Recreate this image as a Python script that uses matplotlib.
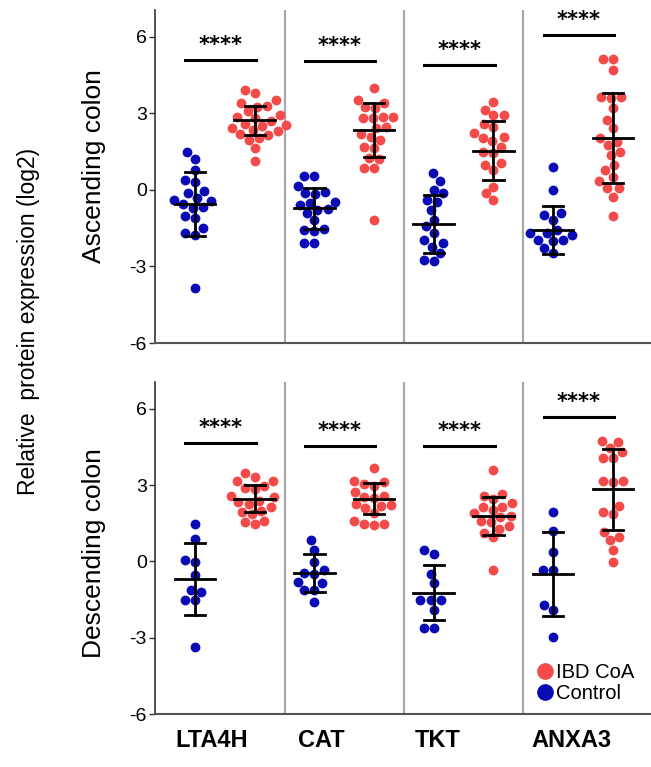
import numpy as np
import matplotlib
matplotlib.use("Agg")
import matplotlib.pyplot as plt
from matplotlib.lines import Line2D

plt.rcParams['font.family'] = ['Liberation Sans', 'DejaVu Sans']
plt.rcParams['axes.unicode_minus'] = False

genes = ["LTA4H", "CAT", "TKT", "ANXA3"]

# Ascending colon, log2 relative expression per sample
asc_ctrl = [
    [1.47, 1.2, 0.76, 0.39, 0.29, -0.04, -0.13, -0.33, -0.39, -0.42, -0.55,
     -0.68, -0.7, -1.04, -1.1, -1.5, -1.7, -1.76, -3.85],
    [0.55, 0.55, 0.16, -0.07, -0.13, -0.15, -0.46, -0.5, -0.59, -0.78, -0.9,
     -0.75, -1.17, -1.63, -1.57, -1.54, -2.09, -2.09],
    [0.65, 0.33, 0.0, -0.13, -0.46, -0.39, -0.78, -1.17, -1.43, -1.7, -2.09,
     -1.96, -2.22, -2.74, -2.8, -2.48],
    [0.91, 0.0, -0.91, -0.98, -1.17, -1.56, -1.69, -1.76, -1.69, -1.96, -2.02,
     -1.96, -2.48, -2.28],
]
asc_ibd = [
    [3.91, 3.78, 3.52, 3.39, 3.3, 3.26, 3.1, 2.87, 2.92, 2.8, 2.7, 2.6, 2.55,
     2.5, 2.41, 2.35, 2.3, 2.2, 2.15, 2.02, 1.96, 1.63, 1.13],
    [3.98, 3.52, 3.39, 3.26, 3.2, 2.87, 2.8, 2.8, 2.87, 2.41, 2.48, 2.2, 2.07,
     1.96, 1.7, 1.64, 1.2, 1.24, 0.85, 0.86, -1.17],
    [3.46, 3.13, 2.93, 2.93, 2.6, 2.48, 2.22, 2.09, 2.02, 1.9, 1.7, 1.5, 1.43,
     1.04, 0.98, 0.78, 0.13, -0.13, -0.39],
    [5.11, 5.11, 4.69, 3.59, 3.65, 3.65, 3.19, 2.74, 2.41, 2.02, 1.76, 1.89,
     1.37, 1.5, 0.98, 0.78, 0.52, 0.33, 0.07, 0.07, -0.26, -1.04],
]
asc_ctrl_mean = [-0.55, -0.72, -1.34, -1.58]
asc_ctrl_sd = [1.27, 0.80, 1.14, 0.94]
asc_ibd_mean = [2.72, 2.34, 1.54, 2.04]
asc_ibd_sd = [0.55, 1.07, 1.14, 1.76]
asc_sig_y = [5.08, 5.05, 4.9, 6.06]

# Descending colon
desc_ctrl = [
    [1.47, 0.89, 0.04, -0.03, -0.55, -1.13, -1.2, -1.53, -1.53, -3.35],
    [0.82, 0.43, -0.03, -0.35, -0.46, -0.48, -0.81, -0.87, -1.13, -1.13,
     -1.59],
    [0.43, 0.3, -0.48, -0.87, -1.53, -1.53, -1.51, -1.92, -2.63, -2.63],
    [1.93, 1.21, 0.37, -0.35, -0.35, -1.72, -1.92, -2.96],
]
desc_ibd = [
    [3.49, 3.32, 3.17, 3.17, 2.84, 2.9, 2.97, 2.52, 2.58, 2.39, 2.26, 2.32,
     2.13, 1.99, 1.86, 1.93, 1.6, 1.53, 1.47],
    [3.65, 3.17, 3.1, 2.97, 3.04, 2.58, 2.52, 2.5, 2.71, 2.19, 2.26, 2.2, 2.1,
     1.9, 1.6, 1.47, 1.41, 1.47],
    [3.6, 2.65, 2.58, 2.45, 2.3, 2.13, 2.13, 2.0, 1.9, 1.8, 1.73, 1.6, 1.53,
     1.4, 1.28, 1.1, 0.95, -0.35],
    [4.73, 4.7, 4.47, 4.28, 4.08, 4.08, 3.17, 3.1, 3.17, 2.19, 1.86, 1.93,
     1.15, 0.95, 0.82, 0.43, -0.03],
]
desc_ctrl_mean = [-0.69, -0.47, -1.23, -0.49]
desc_ctrl_sd = [1.40, 0.74, 1.08, 1.66]
desc_ibd_mean = [2.46, 2.46, 1.78, 2.83]
desc_ibd_sd = [0.54, 0.60, 0.75, 1.58]
desc_sig_y = [4.65, 4.54, 4.54, 5.67]

RED = '#f34a4a'
BLUE = '#0b0bb6'

XLIM = (-0.335, 3.82)
YLIM = (-6, 7.05)
PAIR_GAP = 0.5


def swarm(values, dx, dy):
    # simple beeswarm: each point goes to the free spot closest to centre
    vals = np.asarray(values, float)
    out = np.zeros(len(vals))
    placed = []
    for i in np.argsort(vals):
        y = vals[i]
        near = [(px, py) for px, py in placed if abs(py - y) < dy]
        cands = [0.0]
        for px, py in near:
            w = np.sqrt(max(0.0, 1 - ((py - y) / dy) ** 2)) * dx
            cands += [px - w, px + w]
        cands.sort(key=abs)
        for c in cands:
            if all(((c - px) / dx) ** 2 + ((y - py) / dy) ** 2 >= 0.999
                   for px, py in near):
                break
        out[i] = c
        placed.append((c, y))
    return out


def draw_panel(ax, ctrl, ibd, cmean, csd, imean, isd, sig_y):
    for k in range(len(genes)):
        for x0, vals, col, m, s in [(k, ctrl[k], BLUE, cmean[k], csd[k]),
                                    (k + PAIR_GAP, ibd[k], RED, imean[k], isd[k])]:
            xs = x0 + swarm(vals, 0.085, 0.41)
            ax.scatter(xs, vals, s=50, color=col, linewidths=0, zorder=2)
            # mean +/- SD
            ax.plot([x0 - 0.17, x0 + 0.17], [m, m], color='black', lw=2, zorder=3)
            ax.plot([x0, x0], [m - s, m + s], color='black', lw=2, zorder=3)
            for yy in (m - s, m + s):
                ax.plot([x0 - 0.085, x0 + 0.085], [yy, yy], color='black',
                        lw=2, zorder=3)
        ax.plot([k - 0.08, k + PAIR_GAP + 0.01], [sig_y[k], sig_y[k]],
                color='black', lw=2.2)
        ax.text(k + 0.215, sig_y[k] + 0.2, '****', ha='center', va='bottom',
                fontsize=15, fontweight='bold', family='DejaVu Sans')
        if k < len(genes) - 1:
            ax.axvline(k + 0.75, color='#a9a9a9', lw=1.6, zorder=0)

    ax.set_xlim(*XLIM)
    ax.set_ylim(*YLIM)
    ax.set_yticks([-6, -3, 0, 3, 6])
    ax.set_xticks([])
    ax.tick_params(axis='y', labelsize=14, length=4, width=1, direction='out',
                   pad=2, color='#333333')
    for side in ('top', 'right'):
        ax.spines[side].set_visible(False)
    ax.spines['left'].set_color('#333333')
    ax.spines['left'].set_linewidth(1.2)
    ax.spines['bottom'].set_color('#555555')
    ax.spines['bottom'].set_linewidth(1.5)


fig = plt.figure(figsize=(6.51, 7.67), dpi=100)
ax_top = fig.add_axes([0.2381, 0.5528, 0.7619, 0.4342])
ax_bot = fig.add_axes([0.2381, 0.0691, 0.7619, 0.4329])

draw_panel(ax_top, asc_ctrl, asc_ibd, asc_ctrl_mean, asc_ctrl_sd,
           asc_ibd_mean, asc_ibd_sd, asc_sig_y)
draw_panel(ax_bot, desc_ctrl, desc_ibd, desc_ctrl_mean, desc_ctrl_sd,
           desc_ibd_mean, desc_ibd_sd, desc_sig_y)

# gene names under the lower panel
label_x = [0.14, 1.06, 2.03, 3.15]
for x, g in zip(label_x, genes):
    ax_bot.text(x, -7.05, g, ha='center', va='center', fontsize=17,
                fontweight='bold')

fig.text(0.1444, 0.7836, 'Ascending colon', rotation=90, ha='center',
         va='center', fontsize=19)
fig.text(0.1444, 0.279, 'Descending colon', rotation=90, ha='center',
         va='center', fontsize=19)
fig.text(0.0445, 0.5815, 'Relative  protein expression (log2)', rotation=90,
         ha='center', va='center', fontsize=16.5)

handles = [Line2D([], [], marker='o', ls='', ms=11, color=RED, label='IBD CoA'),
           Line2D([], [], marker='o', ls='', ms=11, color=BLUE, label='Control')]
ax_bot.legend(handles=handles, loc='upper left', bbox_to_anchor=(0.826, 0.136),
              bbox_transform=fig.transFigure, frameon=False, fontsize=14.5,
              handlelength=0.7, handletextpad=0.2, labelspacing=0.1,
              borderpad=0, borderaxespad=0)

fig.savefig('out.png', dpi=100)
